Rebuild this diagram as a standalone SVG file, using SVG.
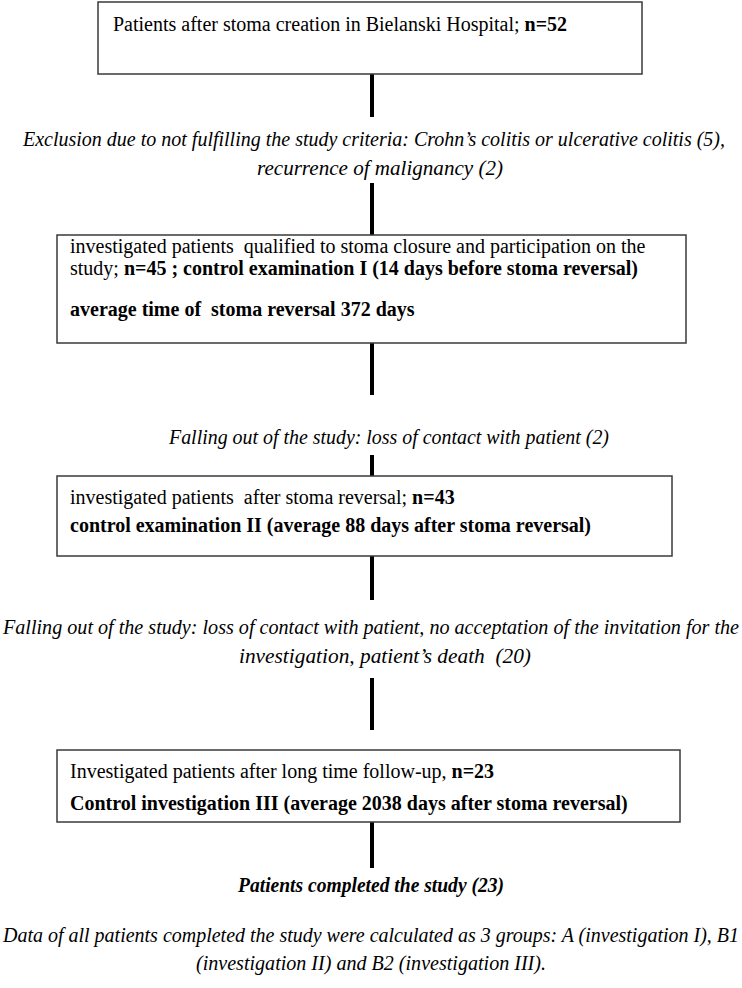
<svg xmlns="http://www.w3.org/2000/svg" width="742" height="988" viewBox="0 0 742 988">
<style>
.box{fill:#fff;stroke:#3a3a3a;stroke-width:1.5}
.t{font-family:"Liberation Serif","Times New Roman",serif;font-size:20px;fill:#000;white-space:pre}
.b{font-weight:bold}
.i{font-family:"Liberation Serif","Times New Roman",serif;font-size:20px;font-style:italic;fill:#000;white-space:pre}
.c{stroke:#000;stroke-width:4;fill:none}
</style>
<rect width="742" height="988" fill="#fff"/>
<g id="connectors">
<line class="c" x1="372" y1="74" x2="372" y2="117"/>
<line class="c" x1="372" y1="183" x2="372" y2="235"/>
<line class="c" x1="372" y1="343" x2="372" y2="395"/>
<line class="c" x1="372" y1="455" x2="372" y2="476"/>
<line class="c" x1="372" y1="556" x2="372" y2="600"/>
<line class="c" x1="372" y1="678" x2="372" y2="730"/>
<line class="c" x1="372" y1="822" x2="372" y2="868"/>
</g>
<g id="n1">
<rect class="box" x="98" y="2" width="544" height="72"/>
<text class="t" x="113" y="31">Patients after stoma creation in Bielanski Hospital; <tspan class="b">n=52</tspan></text>
</g>
<g id="e1">
<text class="i" x="374" y="146" text-anchor="middle" textLength="702" lengthAdjust="spacingAndGlyphs">Exclusion due to not fulfilling the study criteria: Crohn’s colitis or ulcerative colitis (5),</text>
<text class="i" x="380" y="175" text-anchor="middle" textLength="246" lengthAdjust="spacingAndGlyphs">recurrence of malignancy (2)</text>
</g>
<g id="n2">
<rect class="box" x="57" y="235" width="629" height="108"/>
<text class="t" x="70" y="253">investigated patients  qualified to stoma closure and participation on the</text>
<text class="t" x="70" y="275">study; <tspan class="b">n=45 ; control examination I (14 days before stoma reversal)</tspan></text>
<text class="t b" x="70" y="316">average time of  stoma reversal 372 days</text>
</g>
<g id="e2">
<text class="i" x="389" y="444" text-anchor="middle" textLength="440" lengthAdjust="spacingAndGlyphs">Falling out of the study: loss of contact with patient (2)</text>
</g>
<g id="n3">
<rect class="box" x="57" y="476" width="615" height="80"/>
<text class="t" x="70" y="504">investigated patients  after stoma reversal; <tspan class="b">n=43</tspan></text>
<text class="t b" x="70" y="532">control examination II (average 88 days after stoma reversal)</text>
</g>
<g id="e3">
<text class="i" x="371" y="634" text-anchor="middle" textLength="736" lengthAdjust="spacingAndGlyphs">Falling out of the study: loss of contact with patient, no acceptation of the invitation for the</text>
<text class="i" x="385" y="663" text-anchor="middle" textLength="292" lengthAdjust="spacingAndGlyphs">investigation, patient’s death  (20)</text>
</g>
<g id="n4">
<rect class="box" x="57" y="750" width="623" height="72"/>
<text class="t" x="70" y="778">Investigated patients after long time follow-up, <tspan class="b">n=23</tspan></text>
<text class="t b" x="70" y="810">Control investigation III (average 2038 days after stoma reversal)</text>
</g>
<g id="e4">
<text class="i b" x="371" y="892" text-anchor="middle" textLength="266" lengthAdjust="spacingAndGlyphs">Patients completed the study (23)</text>
<text class="i" x="371" y="942" text-anchor="middle" textLength="736" lengthAdjust="spacingAndGlyphs">Data of all patients completed the study were calculated as 3 groups: A (investigation I), B1</text>
<text class="i" x="371" y="970" text-anchor="middle" textLength="350" lengthAdjust="spacingAndGlyphs">(investigation II) and B2 (investigation III).</text>
</g>
</svg>
